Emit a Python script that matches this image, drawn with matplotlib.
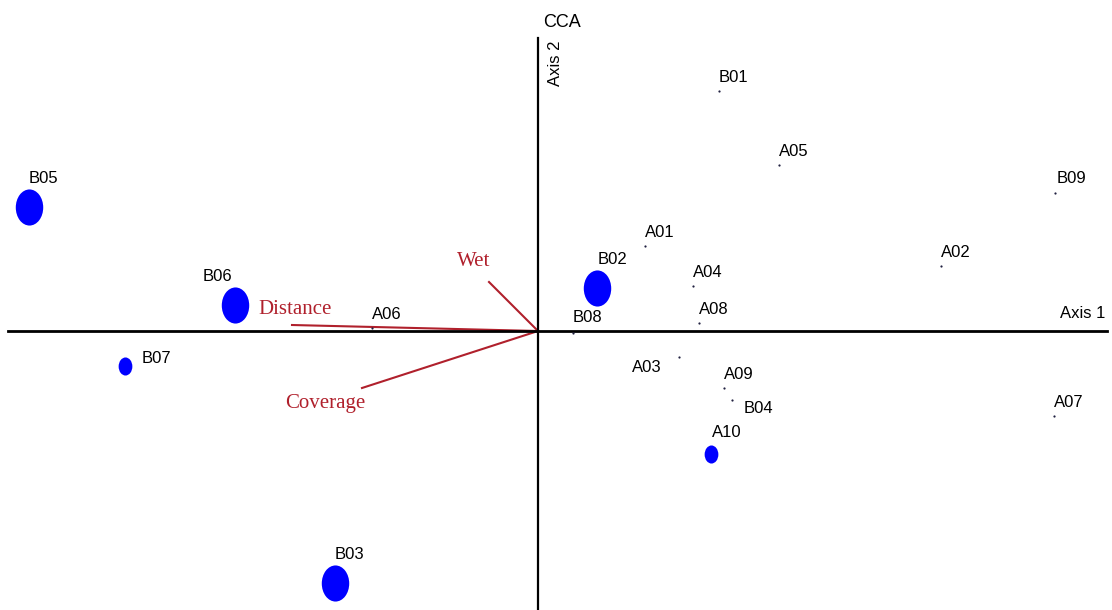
import matplotlib.pyplot as plt
from matplotlib.path import Path
from matplotlib.transforms import Affine2D

# site scores on the two CCA axes
sites = ["B01", "A05", "B09", "A01", "A02", "A04", "A08", "B08", "A06", "A03",
         "A09", "B04", "A07", "B05", "B06", "B02", "B03", "B07", "A10"]
axis1 = [0.905, 1.205, 2.585, 0.535, 2.015, 0.775, 0.805, 0.175, -0.83, 0.705,
         0.93, 0.97, 2.58, -2.545, -1.515, 0.295, -1.015, -2.065, 0.865]
axis2 = [1.20, 0.83, 0.69, 0.425, 0.325, 0.225, 0.04, -0.01, 0.015, -0.13,
         -0.285, -0.345, -0.425, 0.62, 0.13, 0.215, -1.26, -0.175, -0.615]
# abundance class: 0 = point only, 1 = small circle, 2 = large circle
abund = [0, 0, 0, 0, 0, 0, 0, 0, 0, 0, 0, 0, 0, 2, 2, 2, 2, 1, 1]

# environmental vectors (biplot arrows)
env_names = ["Wet", "Distance", "Coverage"]
env_x = [-0.245, -1.23, -0.88]
env_y = [0.245, 0.03, -0.285]

# label offsets in pixels (text left, baseline) relative to the point
label_off = {"B08": (0, 11), "B09": (2, 10), "A03": (-47, -15), "B04": (12, -13),
             "B05": (0, 24), "B06": (-32, 24), "B02": (1, 24), "B03": (0, 24),
             "B07": (17, 3), "A10": (1, 17)}
env_off = {"Wet": (-32, 16), "Distance": (-34, 11), "Coverage": (-77, -20)}

red = "#B0202C"
sans = "Liberation Sans"
serif = "Liberation Serif"

fig = plt.figure(figsize=(11.12, 6.10), dpi=100)
ax = fig.add_axes([0, 0, 1, 1])
ax.set_xlim(-2.69, 2.87)
ax.set_ylim(-1.395, 1.655)
ax.axis("off")

# axis lines through the origin
x_left, x_right = -2.65, 2.845
y_top = 1.465
ax.plot([x_left, x_right], [0, 0], color="black", lw=2.0, zorder=2)
ax.plot([0, 0], [y_top, -1.395], color="black", lw=1.6, zorder=2)

# environmental vectors
for name, ex, ey in zip(env_names, env_x, env_y):
    ax.plot([0, ex], [0, ey], color=red, lw=1.5, zorder=1)
    ax.annotate(name, (ex, ey), xytext=env_off[name], textcoords="offset pixels",
                ha="left", va="baseline", color=red, fontsize=15, family=serif)

# slightly tall ellipse marker, like the original export
ell = Path.unit_circle().transformed(Affine2D().scale(0.76, 1.0))
msize = {1: 13, 2: 26}

for name, x, y, a in zip(sites, axis1, axis2, abund):
    if a == 0:
        ax.plot(x, y, "o", ms=1.6, color="#202040", mew=0, zorder=3)
    else:
        ax.plot(x, y, marker=ell, ms=msize[a], color="#0000FF", mew=0,
                ls="none", zorder=3)
    ax.annotate(name, (x, y), xytext=label_off.get(name, (0, 9)),
                textcoords="offset pixels", ha="left", va="baseline",
                fontsize=12, family=sans, color="black", zorder=4)

ax.annotate("Axis 1", (x_right, 0), xytext=(-2, 13), textcoords="offset pixels",
            ha="right", va="baseline", fontsize=12, family=sans)
ax.annotate("Axis 2", (0, y_top), xytext=(10, -2), textcoords="offset pixels",
            ha="left", va="top", rotation=90, fontsize=12, family=sans)
ax.annotate("CCA", (0, y_top), xytext=(5, 11), textcoords="offset pixels",
            ha="left", va="baseline", fontsize=13, family=sans)

fig.savefig("out.png", dpi=100)
